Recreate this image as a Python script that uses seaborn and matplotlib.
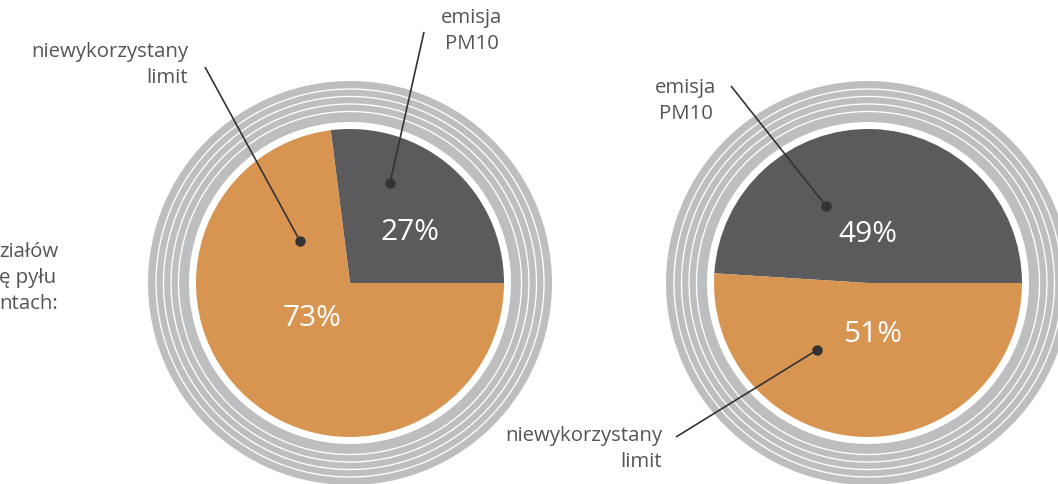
import matplotlib
matplotlib.use("Agg")
import matplotlib.pyplot as plt
import seaborn as sns

# ---- data ----
categories = ["emisja\nPM10", "niewykorzystany\nlimit"]
left_values = [27, 73]
right_values = [49, 51]
slice_colors = ["#5b5b5d", "#d89552"]
ring_color = "#bdbec0"
side_text = "ziałów\nę pyłu\nntach:"

sns.set_theme(style="white")
plt.rcParams['font.family'] = ['Open Sans', 'DejaVu Sans']

W, H = 1058, 484
fig = plt.figure(figsize=(W / 100, H / 100), dpi=100)
ax = fig.add_axes([0, 0, 1, 1])

def fy(y):
    return H - y

R_PIE, R_RING_OUT, R_RING_IN = 154, 202, 161
white_lines = [194, 186.5, 179, 171.5]
text_col = "#555557"
line_col = "#333335"
FS = 14.7
LS = 1.42

def draw_pie(cx, cy, values, pct_pos):
    c = (cx, fy(cy))
    ax.pie([1], radius=R_RING_OUT, colors=[ring_color], center=c, frame=True,
           wedgeprops=dict(width=R_RING_OUT - R_RING_IN, linewidth=0))
    for r in white_lines:
        ax.add_patch(plt.Circle(c, r, fill=False, ec="white", lw=0.95))
    ax.pie(values, radius=R_PIE, colors=slice_colors, startangle=0,
           counterclock=True, center=c, frame=True,
           wedgeprops=dict(linewidth=0))
    for v, (px, py) in zip(values, pct_pos):
        ax.text(px, fy(py), f"{v}%", color="white", fontsize=21.5,
                ha="center", va="center", fontweight="medium")

draw_pie(350, 283, left_values, [(410, 232), (312, 318)])
draw_pie(868, 283, right_values, [(868, 234), (873, 335)])

def callout(label, tx, ty, ha, x0, y0, x1, y1):
    ax.text(tx, fy(ty), label, color=text_col, fontsize=FS, ha=ha,
            va="center", multialignment=ha if ha != "left" else "center",
            linespacing=LS)
    ax.plot([x0, x1], [fy(y0), fy(y1)], color=line_col, lw=1.2,
            solid_capstyle="butt")
    ax.plot([x1], [fy(y1)], "o", color=line_col, ms=7.5, mec="none")

callout(categories[0], 472, 31, "center", 424, 32, 390, 183)
callout(categories[1], 188, 65, "right", 205, 67, 300, 241)
callout(categories[0], 686, 101, "center", 731, 86, 826, 206)
callout(categories[1], 662, 449, "right", 676, 437, 817, 350)

ax.text(-1, fy(278), side_text, color=text_col, fontsize=FS, ha="left",
        va="center", linespacing=LS)

ax.set_xlim(0, W)
ax.set_ylim(0, H)
ax.set_aspect("equal")
ax.axis("off")

fig.savefig("out.png", dpi=100)
